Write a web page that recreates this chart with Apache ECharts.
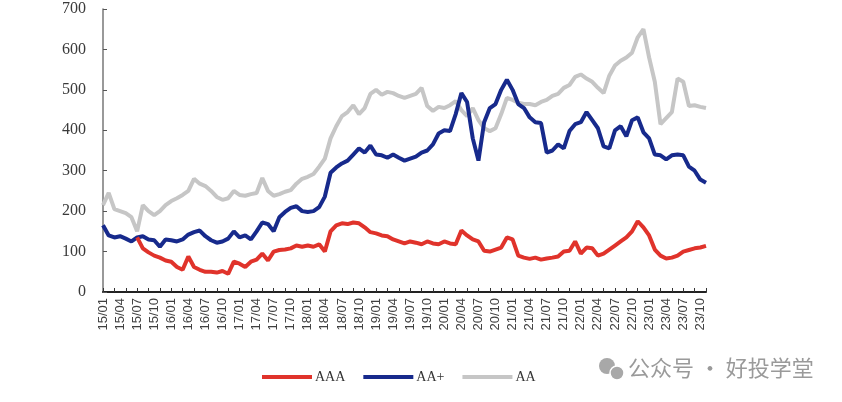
<!DOCTYPE html>
<html>
<head>
<meta charset="utf-8">
<script src="https://cdn.jsdelivr.net/npm/echarts@6/dist/echarts.min.js"></script>
<style>html,body{margin:0;padding:0;background:#fff}#c{width:842px;height:402px}</style>
</head>
<body>
<div id="c"></div>
<script>
var months = [
'15/01','15/02','15/03','15/04','15/05','15/06','15/07','15/08','15/09','15/10','15/11','15/12',
'16/01','16/02','16/03','16/04','16/05','16/06','16/07','16/08','16/09','16/10','16/11','16/12',
'17/01','17/02','17/03','17/04','17/05','17/06','17/07','17/08','17/09','17/10','17/11','17/12',
'18/01','18/02','18/03','18/04','18/05','18/06','18/07','18/08','18/09','18/10','18/11','18/12',
'19/01','19/02','19/03','19/04','19/05','19/06','19/07','19/08','19/09','19/10','19/11','19/12',
'20/01','20/02','20/03','20/04','20/05','20/06','20/07','20/08','20/09','20/10','20/11','20/12',
'21/01','21/02','21/03','21/04','21/05','21/06','21/07','21/08','21/09','21/10','21/11','21/12',
'22/01','22/02','22/03','22/04','22/05','22/06','22/07','22/08','22/09','22/10','22/11','22/12',
'23/01','23/02','23/03','23/04','23/05','23/06','23/07','23/08','23/09','23/10','23/11'
];
var yTicks = [0,100,200,300,400,500,600,700];
var seriesNames = ['AAA','AA+','AA'];

var aaa = [
null,null,null,null,null,null,135,108,98,90,85,78,
75,62,55,88,62,55,50,50,48,52,45,75,
70,62,75,80,95,78,100,104,105,108,115,112,
115,112,118,100,150,165,170,168,172,170,160,148,
145,140,138,130,125,120,125,122,118,125,120,118,
125,120,118,152,140,130,125,102,100,105,110,135,
130,90,85,82,85,80,83,85,88,100,102,125,
95,110,108,90,95,105,115,125,135,150,175,160,
140,105,90,83,85,90,100,104,108,110,114
];
var aaPlus = [
165,140,135,138,132,125,135,138,130,128,112,130,
128,125,130,142,148,152,138,128,122,125,132,150,
135,140,130,150,172,168,150,185,198,208,212,200,
198,200,210,236,295,308,318,325,340,355,345,362,
340,338,332,340,332,325,330,335,345,350,365,392,
400,398,440,492,470,380,325,420,455,465,500,525,
500,465,455,432,420,418,345,350,365,355,398,415,
420,445,425,405,360,355,400,410,385,425,432,395,
380,340,338,328,338,340,338,310,300,278,270
];
var aa = [
215,245,205,200,195,185,150,215,200,190,200,215,
225,232,240,250,280,268,262,250,235,228,232,250,
240,238,242,245,282,250,238,242,248,252,268,280,
285,292,310,330,380,410,435,445,462,440,455,490,
500,488,495,492,485,480,485,490,505,460,448,458,
455,462,472,450,435,455,425,405,398,405,440,480,
475,468,465,465,462,470,475,485,490,505,512,532,
538,528,520,505,492,535,560,572,580,592,630,650,
580,520,415,430,445,528,520,460,462,458,455
];

var chart = echarts.init(document.getElementById('c'));
chart.setOption({
  animation: false,
  grid: {left: 103, right: 136, top: 9, bottom: 110, containLabel: false},
  legend: {
    data: seriesNames,
    left: 257, top: 365,
    icon: 'rect', itemWidth: 50, itemHeight: 4, itemGap: 18,
    textStyle: {fontFamily: 'Liberation Serif', fontSize: 14, color: '#333', padding: [0,0,0,-2]}
  },
  xAxis: {
    type: 'category', data: months, boundaryGap: false,
    axisLine: {lineStyle: {color: '#222', width: 2}},
    axisTick: {inside: true, interval: 1, length: 4, lineStyle: {color: '#333', width: 1}},
    axisLabel: {interval: 2, rotate: 90, fontFamily: 'Liberation Sans', fontSize: 13, color: '#404040', margin: 6},
    splitLine: {show: false}
  },
  yAxis: {
    type: 'value', min: yTicks[0], max: yTicks[yTicks.length-1], interval: 100,
    axisLine: {show: true, lineStyle: {color: '#777', width: 1.5}},
    axisTick: {show: true, inside: true, length: 4, lineStyle: {color: '#555'}},
    axisLabel: {fontFamily: 'Liberation Serif', fontSize: 16, color: '#3a3a3a', margin: 17},
    splitLine: {show: false}
  },
  graphic: [
    {type: 'circle', shape: {cx: 607, cy: 366, r: 8}, style: {fill: '#a8a8a8'}},
    {type: 'circle', shape: {cx: 617, cy: 373, r: 7}, style: {fill: '#a8a8a8', stroke: '#fff', lineWidth: 1.5}},
    {type: 'text', left: 628, top: 357, style: {text: '公众号 · 好投学堂', fontFamily: 'Noto Sans CJK SC', fontSize: 22, fill: '#9a9a9a'}}
  ],
  series: [
    {name: 'AAA', type: 'line', data: aaa, showSymbol: false, z: 4,
     lineStyle: {color: '#e0332b', width: 4}, itemStyle: {color: '#e0332b'}},
    {name: 'AA+', type: 'line', data: aaPlus, showSymbol: false, z: 3,
     lineStyle: {color: '#172a8c', width: 4}, itemStyle: {color: '#172a8c'}},
    {name: 'AA', type: 'line', data: aa, showSymbol: false, z: 2,
     lineStyle: {color: '#c6c6c6', width: 4}, itemStyle: {color: '#c6c6c6'}}
  ]
});
</script>
</body>
</html>
